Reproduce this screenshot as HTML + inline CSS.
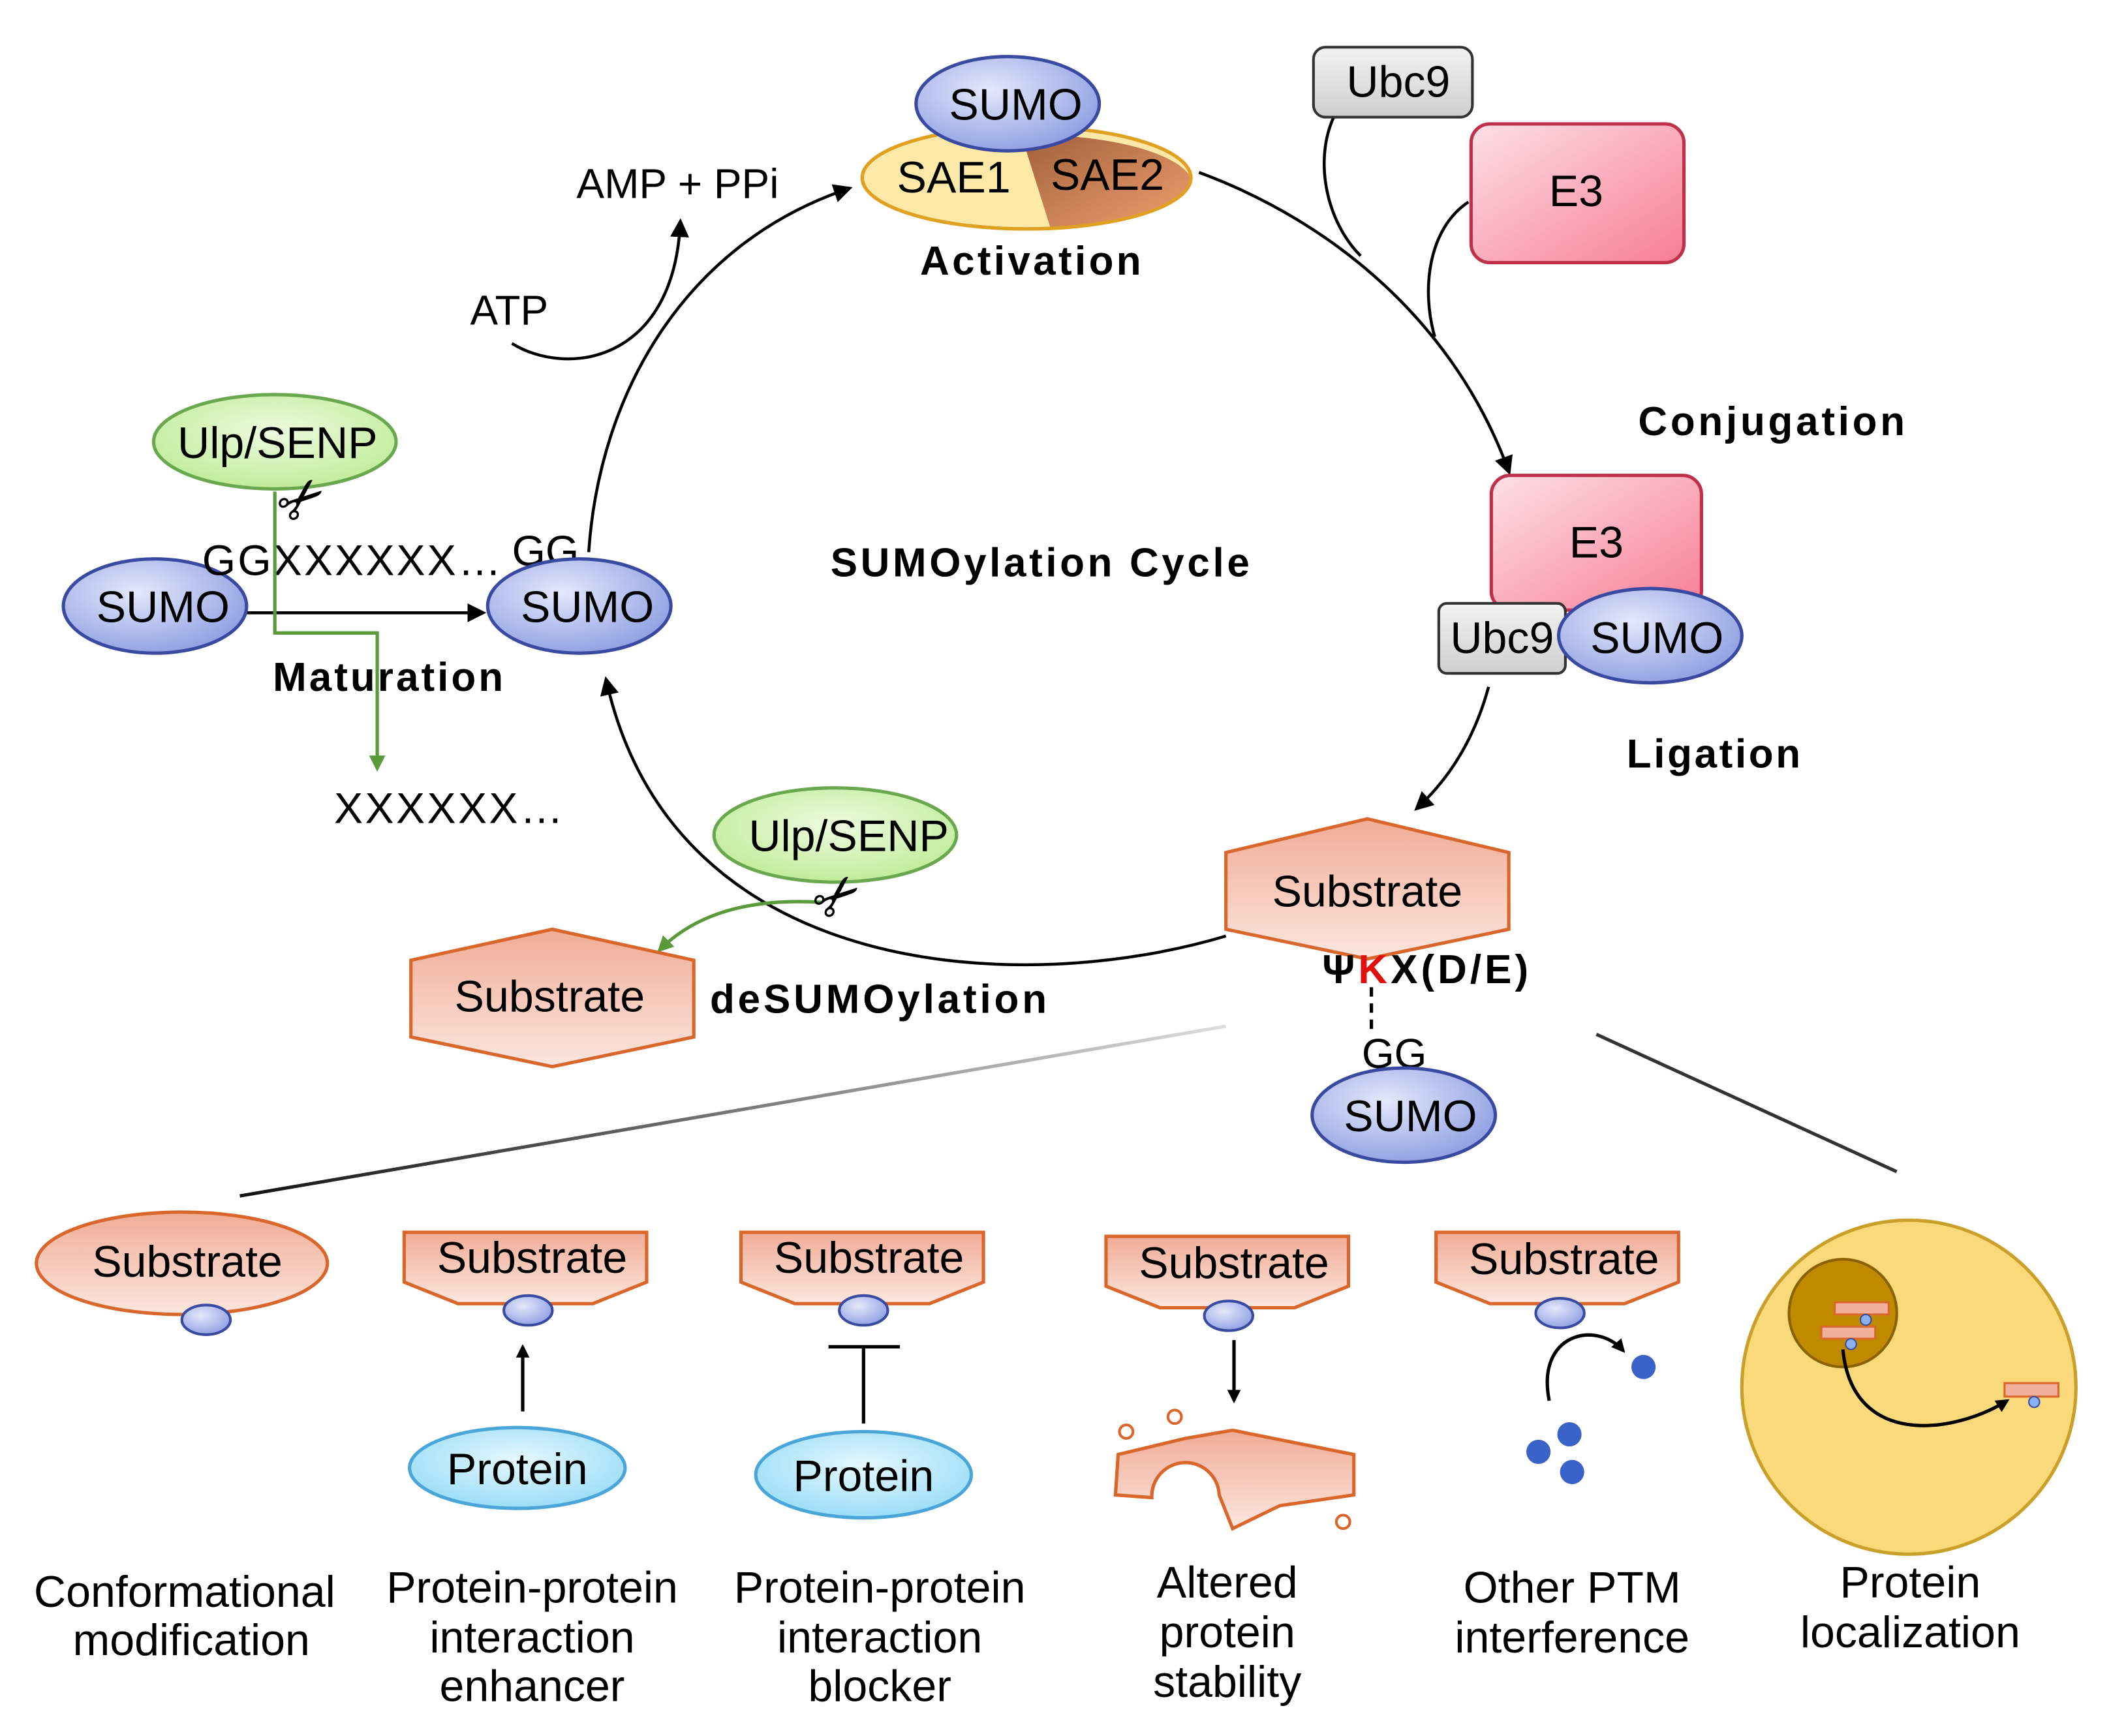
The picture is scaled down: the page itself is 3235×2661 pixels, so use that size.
<!DOCTYPE html>
<html><head><meta charset="utf-8"><style>
html,body{margin:0;padding:0;background:#fff;}
svg{display:block;}
text{font-family:"Liberation Sans",Arial,sans-serif;}
.b{font-weight:bold;}
</style></head><body>
<svg width="3235" height="2661" viewBox="0 0 1567 1289" xmlns="http://www.w3.org/2000/svg">
<defs>
<radialGradient id="sumo" cx="40%" cy="35%" r="70%"><stop offset="0" stop-color="#e4e8fb"/><stop offset="1" stop-color="#8d9ee2"/></radialGradient>
<linearGradient id="sub" x1="0" y1="0" x2="0" y2="1"><stop offset="0" stop-color="#f1ac96"/><stop offset="1" stop-color="#fbe6de"/></linearGradient>
<radialGradient id="ulp" cx="50%" cy="40%" r="70%"><stop offset="0" stop-color="#eefbe0"/><stop offset="1" stop-color="#b9ea8e"/></radialGradient>
<radialGradient id="prot" cx="50%" cy="40%" r="70%"><stop offset="0" stop-color="#e6f8ff"/><stop offset="1" stop-color="#8ed9f6"/></radialGradient>
<linearGradient id="e3" x1="0" y1="0" x2="1" y2="1"><stop offset="0" stop-color="#fde0e6"/><stop offset="1" stop-color="#f77d94"/></linearGradient>
<linearGradient id="ubc" x1="0" y1="0" x2="0" y2="1"><stop offset="0" stop-color="#f2f2f2"/><stop offset="1" stop-color="#cfcfcf"/></linearGradient>
<linearGradient id="sae2" x1="0" y1="0" x2="1" y2="1"><stop offset="0" stop-color="#a0603a"/><stop offset="1" stop-color="#f0a070"/></linearGradient>
<linearGradient id="fanL" x1="1" y1="0" x2="0" y2="0"><stop offset="0" stop-color="#ddd"/><stop offset="1" stop-color="#111"/></linearGradient>
<marker id="ar" markerWidth="10" markerHeight="10" refX="8" refY="5" orient="auto" markerUnits="userSpaceOnUse" viewBox="0 0 10 10"><path d="M0,0 L10,5 L0,10 Z" fill="#000"/></marker>
<marker id="ag" markerWidth="12" markerHeight="12" refX="9" refY="6" orient="auto" markerUnits="userSpaceOnUse" viewBox="0 0 12 12"><path d="M0,0 L12,6 L0,12 Z" fill="#5a9a3a"/></marker>
<marker id="arb" markerWidth="14" markerHeight="14" refX="11" refY="7" orient="auto" markerUnits="userSpaceOnUse" viewBox="0 0 14 14"><path d="M0,0 L14,7 L0,14 Z" fill="#000"/></marker>
</defs>

<g fill="none" stroke="#000" stroke-width="2.2">
<path d="M437,410 C445,290 510,180 630,140" marker-end="url(#arb)"/>
<path d="M890,128 C990,165 1080,240 1120,350" marker-end="url(#arb)"/>
<path d="M1105,510 Q1090,565 1052,600" marker-end="url(#arb)"/>
<path d="M910,695 C760,740 500,730 450,505" marker-end="url(#arb)"/>
<path d="M380,255 C420,280 500,270 505,165" marker-end="url(#arb)"/>
<path d="M990,87 C975,120 985,165 1010,190"/>
<path d="M1090,150 C1060,170 1055,215 1065,250"/>
<path d="M180,455 L358,455" marker-end="url(#arb)"/>
</g>
<line x1="910" y1="762" x2="178" y2="888" stroke="url(#fanL)" stroke-width="2.5"/>
<line x1="1185" y1="768" x2="1408" y2="870" stroke="#333" stroke-width="2.5"/>

<!-- Activation -->
<ellipse cx="762" cy="132" rx="122" ry="38" fill="#fce9a8" stroke="#d97a2b" stroke-width="2.5"/>
<path d="M758,100 A122,38 0 0 1 884,132 A122,38 0 0 1 780,170 Z" fill="url(#sae2)"/>
<ellipse cx="762" cy="132" rx="122" ry="38" fill="none" stroke="#e0a020" stroke-width="2.5"/>
<ellipse cx="748" cy="77" rx="68" ry="35" fill="url(#sumo)" stroke="#3a4aa0" stroke-width="2.5"/>
<text x="754" y="89" font-size="33" text-anchor="middle">SUMO</text>
<text x="708" y="143" font-size="33" text-anchor="middle">SAE1</text>
<text x="822" y="141" font-size="33" text-anchor="middle">SAE2</text>
<text x="765" y="204" font-size="30" class="b" text-anchor="middle" textLength="164">Activation</text>
<text x="503" y="147" font-size="31" text-anchor="middle">AMP + PPi</text>
<text x="378" y="241" font-size="31" text-anchor="middle">ATP</text>

<!-- Conjugation -->
<rect x="975" y="35" width="118" height="52" rx="9" fill="url(#ubc)" stroke="#333" stroke-width="2"/>
<text x="1038" y="72" font-size="33" text-anchor="middle">Ubc9</text>
<rect x="1092" y="92" width="158" height="103" rx="14" fill="url(#e3)" stroke="#c0304a" stroke-width="2.5"/>
<text x="1170" y="153" font-size="33" text-anchor="middle">E3</text>
<text x="1315" y="323" font-size="30" class="b" text-anchor="middle" textLength="198">Conjugation</text>
<rect x="1107" y="353" width="156" height="100" rx="14" fill="url(#e3)" stroke="#c0304a" stroke-width="2.5"/>
<text x="1185" y="414" font-size="33" text-anchor="middle">E3</text>
<rect x="1068" y="448" width="94" height="52" rx="6" fill="url(#ubc)" stroke="#333" stroke-width="2"/>
<text x="1115" y="485" font-size="33" text-anchor="middle">Ubc9</text>
<ellipse cx="1225" cy="472" rx="68" ry="35" fill="url(#sumo)" stroke="#3a4aa0" stroke-width="2.5"/>
<text x="1230" y="485" font-size="33" text-anchor="middle">SUMO</text>
<text x="1272" y="570" font-size="30" class="b" text-anchor="middle" textLength="129">Ligation</text>

<text x="772" y="428" font-size="30" class="b" text-anchor="middle" textLength="311">SUMOylation Cycle</text>

<!-- Substrate center -->
<polygon points="910,633 1015,608 1120,633 1120,690 1015,712 910,690" fill="url(#sub)" stroke="#d9662b" stroke-width="2.5"/>
<text x="1015" y="673" font-size="33" text-anchor="middle">Substrate</text>
<text x="1058" y="730" font-size="30" class="b" text-anchor="middle" textLength="153">Ψ<tspan fill="#e01010">K</tspan>X(D/E)</text>
<line x1="1018" y1="733" x2="1018" y2="765" stroke="#000" stroke-width="2.5" stroke-dasharray="7,5"/>
<text x="1035" y="793" font-size="31" text-anchor="middle">GG</text>
<ellipse cx="1042" cy="828" rx="68" ry="35" fill="url(#sumo)" stroke="#3a4aa0" stroke-width="2.5"/>
<text x="1047" y="840" font-size="33" text-anchor="middle">SUMO</text>

<!-- Maturation -->
<ellipse cx="204" cy="328" rx="90" ry="35" fill="url(#ulp)" stroke="#6aa84f" stroke-width="2.5"/>
<text x="206" y="340" font-size="33" text-anchor="middle">Ulp/SENP</text>
<ellipse cx="115" cy="450" rx="68" ry="35" fill="url(#sumo)" stroke="#3a4aa0" stroke-width="2.5"/>
<text x="121" y="462" font-size="33" text-anchor="middle">SUMO</text>
<text x="150" y="427" font-size="32" textLength="222">GGXXXXXX…</text>
<text x="380" y="420" font-size="32">GG</text>
<ellipse cx="430" cy="450" rx="68" ry="35" fill="url(#sumo)" stroke="#3a4aa0" stroke-width="2.5"/>
<text x="436" y="462" font-size="33" text-anchor="middle">SUMO</text>
<path d="M204,365 L204,470 L280,470 L280,570" fill="none" stroke="#5a9a3a" stroke-width="2.5" marker-end="url(#ag)"/>
<text x="225" y="385" font-size="42" text-anchor="middle" transform="rotate(-40 225 372)">✂</text>
<text x="288" y="513" font-size="30" class="b" text-anchor="middle" textLength="171">Maturation</text>
<text x="248" y="611" font-size="32" textLength="170">XXXXXX…</text>

<!-- deSUMOylation -->
<path d="M610,670 Q530,665 490,705" fill="none" stroke="#5a9a3a" stroke-width="2.5" marker-end="url(#ag)"/>
<ellipse cx="620" cy="620" rx="90" ry="35" fill="url(#ulp)" stroke="#6aa84f" stroke-width="2.5"/>
<text x="630" y="632" font-size="33" text-anchor="middle">Ulp/SENP</text>
<text x="622" y="680" font-size="42" text-anchor="middle" transform="rotate(-40 622 666)">✂</text>
<polygon points="305,713 410,690 515,713 515,770 410,792 305,770" fill="url(#sub)" stroke="#d9662b" stroke-width="2.5"/>
<text x="408" y="751" font-size="33" text-anchor="middle">Substrate</text>
<text x="652" y="752" font-size="30" class="b" text-anchor="middle" textLength="250">deSUMOylation</text>

<!-- Bottom row -->
<ellipse cx="135" cy="938" rx="108" ry="38" fill="url(#sub)" stroke="#d9662b" stroke-width="2.5"/>
<text x="139" y="948" font-size="33" text-anchor="middle">Substrate</text>
<ellipse cx="153" cy="980" rx="18" ry="11" fill="url(#sumo)" stroke="#3a4aa0" stroke-width="2"/>

<polygon points="300,915 480,915 480,952 440,968 340,968 300,952" fill="url(#sub)" stroke="#d9662b" stroke-width="2.5"/>
<text x="395" y="945" font-size="33" text-anchor="middle">Substrate</text>
<ellipse cx="392" cy="973" rx="18" ry="11" fill="url(#sumo)" stroke="#3a4aa0" stroke-width="2"/>
<line x1="388" y1="1048" x2="388" y2="1000" stroke="#000" stroke-width="2.5" marker-end="url(#ar)"/>
<ellipse cx="384" cy="1090" rx="80" ry="30" fill="url(#prot)" stroke="#4aa5d8" stroke-width="2.5"/>
<text x="384" y="1102" font-size="33" text-anchor="middle">Protein</text>

<polygon points="550,915 730,915 730,952 690,968 590,968 550,952" fill="url(#sub)" stroke="#d9662b" stroke-width="2.5"/>
<text x="645" y="945" font-size="33" text-anchor="middle">Substrate</text>
<ellipse cx="641" cy="973" rx="18" ry="11" fill="url(#sumo)" stroke="#3a4aa0" stroke-width="2"/>
<line x1="641" y1="1057" x2="641" y2="1000" stroke="#000" stroke-width="2.5"/>
<line x1="615" y1="1000" x2="668" y2="1000" stroke="#000" stroke-width="2.5"/>
<ellipse cx="641" cy="1095" rx="80" ry="32" fill="url(#prot)" stroke="#4aa5d8" stroke-width="2.5"/>
<text x="641" y="1107" font-size="33" text-anchor="middle">Protein</text>

<polygon points="821,918 1001,918 1001,955 961,971 861,971 821,955" fill="url(#sub)" stroke="#d9662b" stroke-width="2.5"/>
<text x="916" y="949" font-size="33" text-anchor="middle">Substrate</text>
<ellipse cx="912" cy="977" rx="18" ry="11" fill="url(#sumo)" stroke="#3a4aa0" stroke-width="2"/>
<line x1="916" y1="995" x2="916" y2="1040" stroke="#000" stroke-width="2.5" marker-end="url(#ar)"/>
<path d="M830,1080 L880,1068 L915,1062 L1005,1080 L1005,1110 L950,1118 L915,1135 L905,1110 A25,25 0 0 0 855,1112 L828,1110 Z" fill="url(#sub)" stroke="#d9662b" stroke-width="2.5"/>
<circle cx="836" cy="1063" r="5" fill="#fff" stroke="#d9662b" stroke-width="2"/>
<circle cx="872" cy="1052" r="5" fill="#fff" stroke="#d9662b" stroke-width="2"/>
<circle cx="997" cy="1130" r="5" fill="#fff" stroke="#d9662b" stroke-width="2"/>

<polygon points="1066,915 1246,915 1246,952 1206,968 1106,968 1066,952" fill="url(#sub)" stroke="#d9662b" stroke-width="2.5"/>
<text x="1161" y="946" font-size="33" text-anchor="middle">Substrate</text>
<ellipse cx="1158" cy="975" rx="18" ry="11" fill="url(#sumo)" stroke="#3a4aa0" stroke-width="2"/>
<path d="M1150,1040 C1140,990 1185,980 1205,1003" fill="none" stroke="#000" stroke-width="2.5" marker-end="url(#ar)"/>
<circle cx="1220" cy="1015" r="9" fill="#3a62c8"/>
<circle cx="1165" cy="1065" r="9" fill="#3a62c8"/>
<circle cx="1142" cy="1078" r="9" fill="#3a62c8"/>
<circle cx="1167" cy="1093" r="9" fill="#3a62c8"/>

<circle cx="1417" cy="1030" r="124" fill="#fad97a" stroke="#c9a02a" stroke-width="2.5"/>
<circle cx="1368" cy="975" r="40" fill="#c08a00" stroke="#8a6200" stroke-width="2"/>
<rect x="1362" y="967" width="40" height="9" fill="#f2b09a" stroke="#d9662b" stroke-width="1.5"/>
<rect x="1352" y="985" width="40" height="9" fill="#f2b09a" stroke="#d9662b" stroke-width="1.5"/>
<circle cx="1385" cy="980" r="4" fill="#8ab0f0" stroke="#3a4aa0"/>
<circle cx="1374" cy="998" r="4" fill="#8ab0f0" stroke="#3a4aa0"/>
<path d="M1368,1002 C1375,1075 1450,1065 1490,1040" fill="none" stroke="#000" stroke-width="2.5" marker-end="url(#ar)"/>
<rect x="1488" y="1027" width="40" height="10" fill="#f2b09a" stroke="#d9662b" stroke-width="1.5"/>
<circle cx="1510" cy="1041" r="4" fill="#8ab0f0" stroke="#3a4aa0"/>

<g font-size="33" text-anchor="middle">
<text x="137" y="1193">Conformational</text><text x="142" y="1229">modification</text>
<text x="395" y="1190">Protein-protein</text><text x="395" y="1227">interaction</text><text x="395" y="1263">enhancer</text>
<text x="653" y="1190">Protein-protein</text><text x="653" y="1227">interaction</text><text x="653" y="1263">blocker</text>
<text x="911" y="1186">Altered</text><text x="911" y="1223">protein</text><text x="911" y="1260">stability</text>
<text x="1167" y="1190">Other PTM</text><text x="1167" y="1227">interference</text>
<text x="1418" y="1186">Protein</text><text x="1418" y="1223">localization</text>
</g>
</svg>
</body></html>
